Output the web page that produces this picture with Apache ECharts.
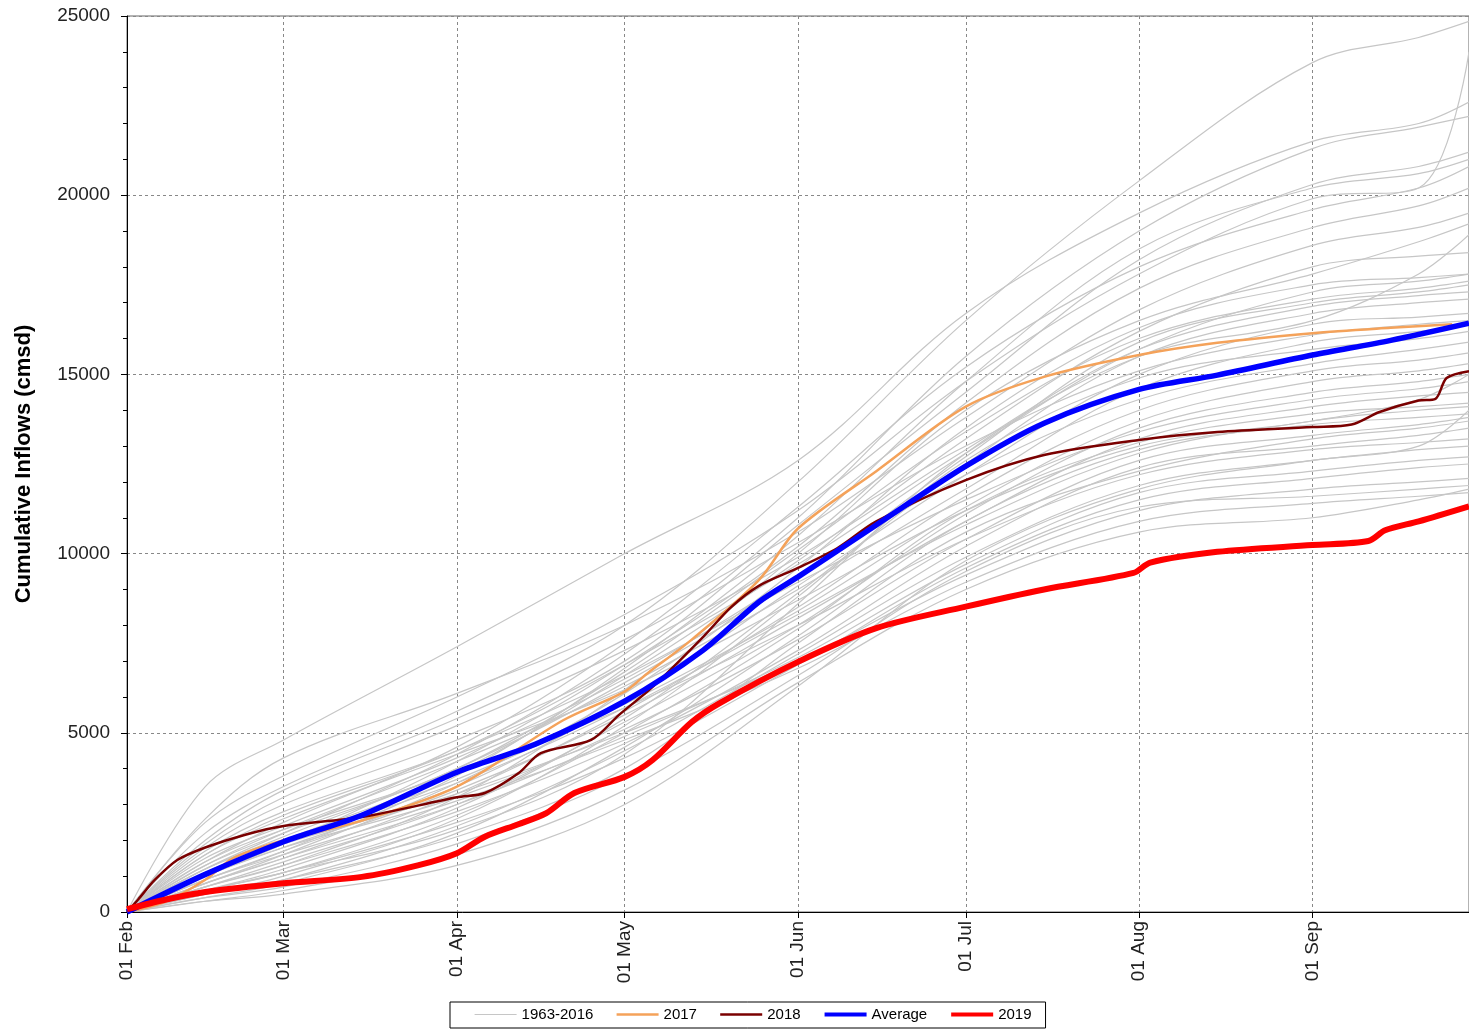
<!DOCTYPE html>
<html><head><meta charset="utf-8">
<script src="https://cdn.jsdelivr.net/npm/echarts@6/dist/echarts.min.js"></script>
<style>html,body{margin:0;padding:0;background:#fff}#c{width:1469px;height:1030px}</style>
</head><body><div id="c"></div>
<script>
// ---- data ----
const histDates = ['2019-02-01','2019-02-15','2019-03-01','2019-04-01','2019-05-01','2019-06-01','2019-07-01','2019-08-01','2019-09-01','2019-09-20','2019-09-29'];
const historicalYears = [
  [0,2200,3500,5600,8000,12000,16500,20400,23700,24400,24850],
  [0,2500,3800,6000,8300,11200,14800,17800,19900,20200,24000],
  [0,3500,4800,7400,10000,12600,16700,19500,21500,22000,22600],
  [0,1200,2200,4400,7200,11000,15500,19000,21300,21900,22200],
  [0,1800,3000,4800,7000,10800,14500,18200,20300,20800,21200],
  [0,900,1700,3800,6800,10500,14800,18500,20200,20600,21000],
  [0,1400,2500,4600,7500,11300,15200,18000,19600,20200,20800],
  [0,1000,1900,4200,6900,10200,14200,17400,19100,19700,20200],
  [0,2600,4300,6100,8000,10600,13800,16800,18600,19100,19500],
  [0,700,1300,3200,6200,10000,14000,16500,17800,18700,19200],
  [0,1100,2000,3900,6600,9800,13200,16200,18000,18300,18400],
  [0,1600,2700,4500,6900,9700,12800,15700,17300,17600,17800],
  [0,800,1600,3600,6100,9600,13500,16300,17500,17700,17800],
  [0,1200,2100,4000,6400,9300,12700,15900,17000,17300,17500],
  [0,1900,3200,5200,7300,9900,12900,15700,16900,17200,17300],
  [0,600,1200,2900,5400,8900,12500,15500,16700,17000,17100],
  [0,1000,1800,3500,5900,9100,12200,15000,16400,16600,16700],
  [0,1300,2300,4200,6300,9000,11800,14600,15900,16200,16400],
  [0,500,1000,2600,5200,8800,12600,14900,15700,16000,16200],
  [0,1500,2400,4300,6500,9400,12200,14300,15300,15700,15900],
  [0,800,1500,3300,5600,8500,11600,14000,15100,15400,15600],
  [0,1100,2000,3700,5800,8400,11300,13700,14800,15100,15300],
  [0,700,1400,3000,5300,8000,11100,13500,14500,14800,15000],
  [0,1700,2800,4500,6600,9200,11500,13400,14300,14600,14800],
  [0,900,1700,3400,5500,8200,10900,13200,14100,14400,14500],
  [0,600,1100,2700,5000,7900,11200,13100,13900,14100,14200],
  [0,1200,2000,3600,5700,8300,10800,12800,13700,14000,14100],
  [0,400,800,2200,4600,7700,10900,12900,13600,13800,13900],
  [0,1000,1800,3200,5100,7600,10400,12600,13300,13600,13800],
  [0,700,1300,2800,4700,7300,10200,12400,13000,13300,13500],
  [0,1400,2300,3900,5700,8000,10400,12200,12900,13100,13200],
  [0,500,900,2400,4500,7200,9900,11900,12600,12900,13000],
  [0,800,1500,3000,4900,7100,9700,11700,12300,12600,12700],
  [0,600,1100,2500,4300,6900,9600,11500,12100,12400,12500],
  [0,1100,1900,3300,5000,7000,9400,11200,11800,12000,12100],
  [0,400,700,1900,3800,6600,9500,11300,11600,11800,11900],
  [0,300,600,1600,3400,6400,9000,10600,11000,11500,11800],
  [0,900,1600,3100,4800,6800,9200,10900,11400,11600,11700],
  [0,500,900,2100,4000,7500,10600,12300,13200,13500,13700],
  [0,2000,3400,5400,7600,10300,13000,15100,16100,16400,16500],
  [0,1300,2200,4000,6700,10100,13400,16000,17100,17400,17600],
  [0,600,1100,2300,4400,8600,12800,15500,16500,17800,18900],
  [0,1600,2600,4400,6200,8700,11200,13000,13700,14300,15000],
  [0,300,500,1300,3000,6300,9800,11800,12600,13000,14000]
];
const dates2017 = ['2019-02-01','2019-02-08','2019-02-15','2019-02-20','2019-03-01','2019-03-15','2019-04-01','2019-04-20','2019-05-01','2019-05-05','2019-05-13','2019-05-25','2019-06-01','2019-06-15','2019-07-01','2019-07-15','2019-08-01','2019-08-15','2019-09-01','2019-09-15','2019-09-26'];
const values2017 = [0,300,900,1500,2000,2550,3500,5350,6150,6650,7600,9260,10700,12300,14100,14930,15540,15880,16150,16300,16400];
const dates2018 = ['2019-02-01','2019-02-03','2019-02-06','2019-02-10','2019-02-15','2019-02-22','2019-03-01','2019-03-15','2019-04-01','2019-04-06','2019-04-12','2019-04-16','2019-04-25','2019-04-30','2019-05-06','2019-05-15','2019-05-20','2019-05-25','2019-06-01','2019-06-08','2019-06-15','2019-07-01','2019-07-15','2019-08-01','2019-08-15','2019-09-01','2019-09-08','2019-09-13','2019-09-20','2019-09-23','2019-09-25','2019-09-29'];
const values2018 = [0,350,900,1450,1800,2150,2400,2650,3200,3320,3870,4430,4800,5500,6280,7670,8500,9100,9600,10150,10900,12050,12750,13170,13390,13530,13600,13950,14270,14320,14900,15090];
const datesAvg = ['2019-02-01','2019-02-15','2019-03-01','2019-03-15','2019-04-01','2019-04-15','2019-05-01','2019-05-15','2019-05-25','2019-06-01','2019-06-15','2019-07-01','2019-07-15','2019-08-01','2019-08-15','2019-09-01','2019-09-15','2019-09-29'];
const valuesAvg = [0,1050,1960,2700,3900,4680,5880,7300,8650,9350,10800,12440,13640,14580,14980,15540,15950,16430];
const dates2019 = ['2019-02-01','2019-02-08','2019-02-15','2019-03-01','2019-03-15','2019-03-25','2019-04-01','2019-04-06','2019-04-12','2019-04-17','2019-04-22','2019-05-01','2019-05-06','2019-05-13','2019-05-18','2019-06-01','2019-06-15','2019-07-01','2019-07-15','2019-07-31','2019-08-03','2019-08-15','2019-09-01','2019-09-11','2019-09-14','2019-09-20','2019-09-29'];
const values2019 = [80,350,560,800,980,1300,1640,2100,2450,2760,3320,3770,4240,5300,5830,6980,7920,8520,9000,9460,9750,10050,10240,10350,10650,10900,11320];
const legendNames = ['1963-2016','2017','2018','Average','2019'];
const monthNames = ['Jan','Feb','Mar','Apr','May','Jun','Jul','Aug','Sep','Oct','Nov','Dec'];

// ---- chart ----
const zip = (d, v) => d.map((x, i) => [x, v[i]]);
const FONT = 'Liberation Sans, Arial, sans-serif';
const series = [];
historicalYears.forEach(vals => {
  series.push({
    name: legendNames[0], type: 'line', data: zip(histDates, vals),
    symbol: 'none', smooth: 0.35, silent: true, z: 1,
    lineStyle: { color: '#c6c6c6', width: 1.2 }, itemStyle: { color: '#c6c6c6' }
  });
});
const main = [
  [legendNames[1], dates2017, values2017, '#f4a25a', 2.5],
  [legendNames[2], dates2018, values2018, '#7a0000', 2.5],
  [legendNames[3], datesAvg, valuesAvg, '#0000ff', 5.5],
  [legendNames[4], dates2019, values2019, '#ff0000', 6]
];
main.forEach((m, i) => {
  series.push({
    name: m[0], type: 'line', data: zip(m[1], m[2]), symbol: 'none', smooth: 0.3, z: 3 + i,
    lineStyle: { color: m[3], width: m[4] }, itemStyle: { color: m[3] }
  });
});
const legendWidths = [1.2, 2.5, 2.5, 4, 4];

const chart = echarts.init(document.getElementById('c'), null, { renderer: 'canvas' });
chart.setOption({
  backgroundColor: '#fff',
  animation: false,
  grid: { left: 127, top: 16, right: -2, bottom: 118, show: true, borderColor: '#666', borderWidth: 1 },
  legend: {
    data: legendNames.map((n, i) => ({ name: n, lineStyle: { width: legendWidths[i] } })),
    left: 450, top: 1002, itemWidth: 42, itemHeight: 10, itemGap: 22,
    padding: [5, 14, 6, 24], borderColor: '#000', borderWidth: 1,
    itemStyle: { opacity: 0, borderWidth: 0 },
    textStyle: { fontSize: 15, color: '#000', fontFamily: FONT }
  },
  xAxis: {
    type: 'time',
    min: +new Date(2019, 1, 1), max: +new Date(2019, 8, 29),
    splitNumber: 8, minInterval: 28 * 864e5, maxInterval: 31 * 864e5,
    axisLine: { lineStyle: { color: '#000', width: 1 } },
    axisTick: { show: true, length: 6, lineStyle: { color: '#000' } },
    axisLabel: {
      rotate: 90, fontSize: 19, color: '#222', fontFamily: FONT, margin: 9,
      formatter: v => { const d = new Date(v); return String(d.getDate()).padStart(2, '0') + ' ' + monthNames[d.getMonth()]; }
    },
    splitLine: { show: true, lineStyle: { color: '#888', type: [3, 3], width: 1 } }
  },
  yAxis: {
    type: 'value', min: 0, max: 25000, interval: 5000,
    name: 'Cumulative Inflows (cmsd)', nameLocation: 'middle', nameGap: 92,
    nameTextStyle: { fontSize: 22, fontWeight: 'bold', color: '#000', fontFamily: FONT },
    axisLine: { show: true, lineStyle: { color: '#000' } },
    axisTick: { show: true, length: 6, lineStyle: { color: '#000' } },
    minorTick: { show: true, splitNumber: 5, length: 4, lineStyle: { color: '#000' } },
    axisLabel: { fontSize: 19, color: '#222', fontFamily: FONT, margin: 17, formatter: v => String(v) },
    splitLine: { show: true, lineStyle: { color: '#888', type: [3, 3], width: 1 } }
  },
  series: series
});
</script></body></html>
